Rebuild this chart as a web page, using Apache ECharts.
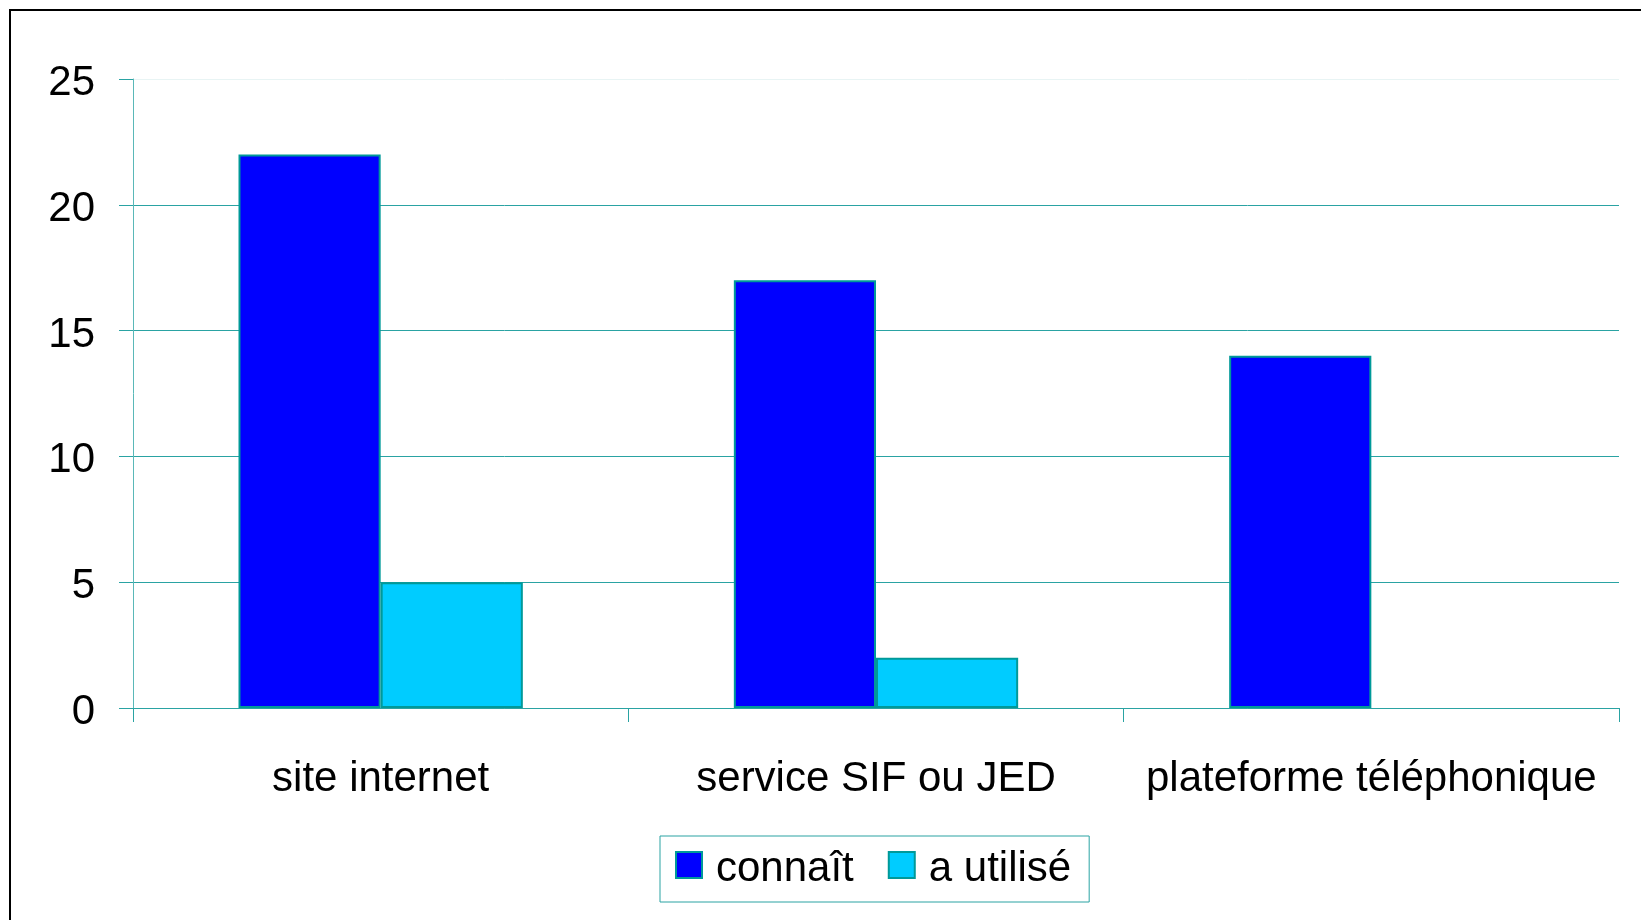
<!DOCTYPE html>
<html>
<head>
<meta charset="utf-8">
<script src="https://cdn.jsdelivr.net/npm/echarts@6/dist/echarts.min.js"></script>
<style>
  html, body { margin: 0; padding: 0; background: #fff; }
  #chart { width: 1641px; height: 920px; }
</style>
</head>
<body>
<div id="chart"></div>
<script>
  // donnees
  var categories = ['site internet', 'service SIF ou JED', 'plateforme téléphonique'];
  var connait = [22, 17, 14];
  var aUtilise = [5, 2, 0];
  var seriesNames = ['connaît', 'a utilisé'];

  var teal = '#2aa3a3';
  var font = '"Liberation Sans", Arial, sans-serif';

  var myChart = echarts.init(document.getElementById('chart'));

  // une barre a zero n'est pas dessinee dans l'original
  function noZeroBorder(arr) {
    return arr.map(function (v) {
      return v === 0 ? { value: v, itemStyle: { borderWidth: 0 } } : v;
    });
  }

  var option = {
    animation: false,
    backgroundColor: '#fff',
    graphic: [
      {
        type: 'rect',
        shape: { x: 10, y: 10, width: 1700, height: 1000 },
        style: { fill: 'none', stroke: '#000', lineWidth: 2 },
        silent: true
      }
    ],
    grid: {
      left: 133,
      right: 22,
      top: 79,
      bottom: 212,
      containLabel: false
    },
    legend: {
      data: seriesNames,
      left: 660,
      top: 836,
      orient: 'horizontal',
      padding: [12, 18, 12, 15],
      borderColor: teal,
      borderWidth: 1,
      backgroundColor: '#fff',
      itemWidth: 26,
      itemHeight: 26,
      itemGap: 34,
      icon: 'rect',
      formatter: '{t|{name}}',
      textStyle: {
        fontFamily: font,
        fontSize: 42,
        color: '#000',
        rich: {
          t: {
            fontFamily: font,
            fontSize: 42,
            color: '#000',
            padding: [8, 0, 0, 9]
          }
        }
      }
    },
    xAxis: {
      type: 'category',
      data: categories,
      axisLine: { show: true, lineStyle: { color: teal, width: 1 } },
      axisTick: { show: true, length: 14, lineStyle: { color: teal } },
      axisLabel: {
        interval: 0,
        margin: 50,
        fontFamily: font,
        fontSize: 42,
        color: '#000'
      },
      splitLine: { show: false }
    },
    yAxis: {
      type: 'value',
      min: 0,
      max: 25,
      interval: 5,
      axisLine: { show: true, lineStyle: { color: '#5ab8b8', width: 1 } },
      axisTick: { show: true, length: 14, lineStyle: { color: teal } },
      axisLabel: {
        margin: 38,
        formatter: '{v|{value}}',
        rich: {
          v: {
            fontFamily: font,
            fontSize: 42,
            color: '#000',
            padding: [9, 0, 0, 0]
          }
        }
      },
      splitLine: {
        show: true,
        lineStyle: {
          color: [teal, teal, teal, teal, teal, '#e8f4f4'],
          width: 1
        }
      }
    },
    series: [
      {
        name: seriesNames[0],
        type: 'bar',
        data: noZeroBorder(connait),
        barGap: 0,
        barCategoryGap: '42.6%',
        itemStyle: {
          color: '#0000ff',
          borderColor: '#009999',
          borderWidth: 2
        }
      },
      {
        name: seriesNames[1],
        type: 'bar',
        data: noZeroBorder(aUtilise),
        barGap: 0,
        barCategoryGap: '42.6%',
        itemStyle: {
          color: '#00ccff',
          borderColor: '#009999',
          borderWidth: 2
        }
      }
    ]
  };

  myChart.setOption(option);
</script>
</body>
</html>
